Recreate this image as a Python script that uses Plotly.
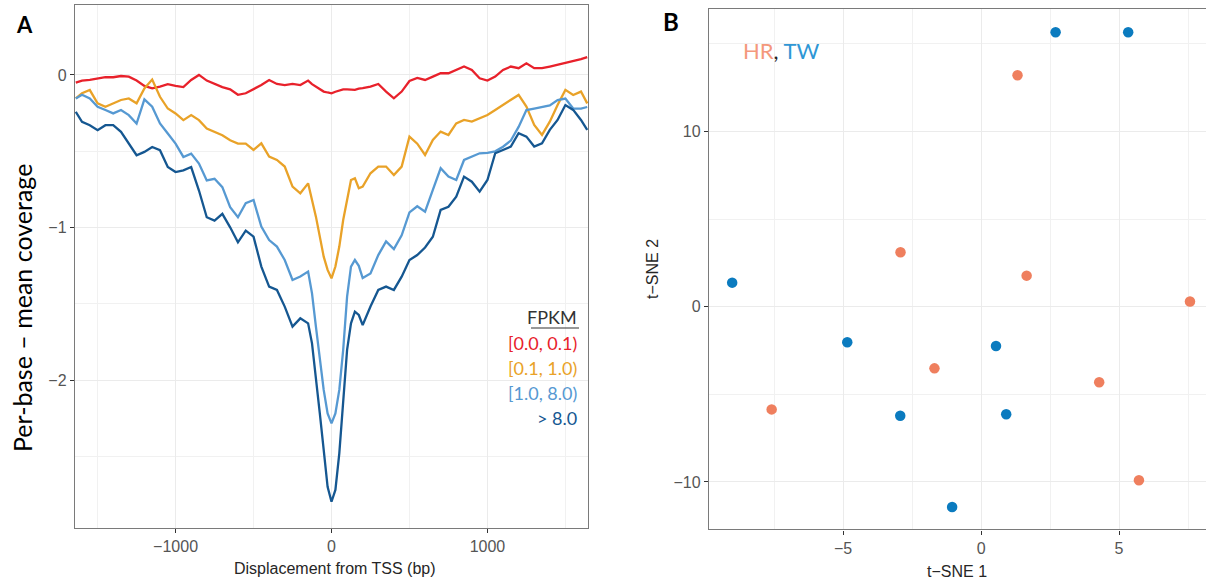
import plotly.graph_objects as go

W, H = 1206, 581

# ---------------- Panel A data ----------------
disp_bp = [-1640, -1600, -1550, -1500, -1450, -1400, -1350, -1300, -1250, -1200,
           -1150, -1100, -1050, -1000, -950, -900, -850, -800, -750, -700,
           -650, -600, -550, -500, -450, -400, -350, -300, -250, -200,
           -150, -125, -100, -75, -50, -25, 0, 25, 50, 75,
           100, 125, 150, 175, 200, 250, 300, 350, 400, 450,
           500, 550, 600, 650, 700, 750, 800, 850, 900, 950,
           1000, 1050, 1100, 1150, 1200, 1250, 1300, 1350, 1400, 1450,
           1500, 1550, 1600, 1640]

cov_00_01 = [-0.05, -0.037, -0.033, -0.022, -0.015, -0.015, -0.007, -0.011, -0.037, -0.072,
             -0.088, -0.077, -0.06, -0.072, -0.08, -0.033, 0.0, -0.037, -0.06, -0.08,
             -0.094, -0.13, -0.12, -0.094, -0.066, -0.033, -0.059, -0.066, -0.059, -0.066,
             -0.037, -0.06, -0.076, -0.09, -0.109, -0.115, -0.12, -0.11, -0.103, -0.095,
             -0.094, -0.095, -0.098, -0.09, -0.087, -0.076, -0.059, -0.109, -0.153, -0.109,
             -0.04, -0.02, -0.033, -0.011, 0.011, 0.011, 0.033, 0.055, 0.033, -0.022,
             -0.037, -0.011, 0.033, 0.055, 0.044, 0.076, 0.044, 0.044, 0.055, 0.066,
             0.076, 0.087, 0.103, 0.116]

cov_01_10 = [-0.154, -0.12, -0.099, -0.186, -0.208, -0.186, -0.164, -0.154, -0.186, -0.088,
             -0.03, -0.143, -0.22, -0.252, -0.296, -0.263, -0.296, -0.351, -0.373, -0.395,
             -0.428, -0.45, -0.45, -0.491, -0.448, -0.535, -0.557, -0.6, -0.731, -0.775,
             -0.71, -0.819, -0.928, -1.059, -1.19, -1.277, -1.332, -1.255, -1.124, -0.95,
             -0.819, -0.688, -0.677, -0.742, -0.731, -0.644, -0.6, -0.6, -0.655, -0.6,
             -0.404, -0.45, -0.524, -0.426, -0.371, -0.393, -0.317, -0.295, -0.306, -0.284,
             -0.262, -0.229, -0.197, -0.164, -0.131, -0.207, -0.328, -0.393, -0.306, -0.197,
             -0.098, -0.131, -0.109, -0.186]

cov_10_80 = [-0.154, -0.13, -0.154, -0.208, -0.23, -0.252, -0.23, -0.263, -0.318, -0.16,
             -0.208, -0.318, -0.384, -0.45, -0.537, -0.515, -0.58, -0.691, -0.68, -0.735,
             -0.866, -0.932, -0.84, -0.819, -0.993, -1.081, -1.124, -1.212, -1.343, -1.32,
             -1.288, -1.43, -1.648, -1.867, -2.063, -2.216, -2.282, -2.216, -2.063, -1.801,
             -1.452, -1.255, -1.212, -1.25, -1.33, -1.30, -1.18, -1.09, -1.14, -1.05,
             -0.90, -0.86, -0.895, -0.753, -0.611, -0.666, -0.688, -0.557, -0.535, -0.513,
             -0.51, -0.50, -0.47, -0.43, -0.34, -0.23, -0.22, -0.21, -0.20, -0.165,
             -0.155, -0.22, -0.22, -0.21]

cov_gt_80 = [-0.241, -0.307, -0.329, -0.362, -0.329, -0.329, -0.373, -0.45, -0.526, -0.504,
             -0.472, -0.493, -0.603, -0.636, -0.625, -0.603, -0.757, -0.932, -0.954, -0.91,
             -0.998, -1.096, -1.02, -1.059, -1.255, -1.386, -1.408, -1.517, -1.648, -1.594,
             -1.627, -1.758, -1.976, -2.216, -2.456, -2.697, -2.795, -2.718, -2.478, -2.151,
             -1.801, -1.627, -1.55, -1.572, -1.638, -1.517, -1.408, -1.386, -1.408, -1.321,
             -1.212, -1.179, -1.13, -1.06, -0.884, -0.863, -0.797, -0.666, -0.699, -0.764,
             -0.688, -0.513, -0.491, -0.469, -0.382, -0.404, -0.469, -0.448, -0.36, -0.295,
             -0.197, -0.229, -0.295, -0.36]

fpkm_labels = ["[0.0, 0.1)", "[0.1, 1.0)", "[1.0, 8.0)", "> 8.0"]
fpkm_colors = ["#e8212b", "#e9a228", "#5699d2", "#155791"]

# ---------------- Panel B data ----------------
tw_x = [2.70, 5.33, -9.02, -4.85, 0.54, -2.93, 0.91, -1.05]
tw_y = [15.65, 15.65, 1.37, -2.03, -2.24, -6.22, -6.14, -11.43]
hr_x = [1.32, -2.92, 1.65, 7.57, -1.69, 4.28, -7.59, 5.72]
hr_y = [13.2, 3.10, 1.77, 0.29, -3.52, -4.31, -5.86, -9.9]

fig = go.Figure()
series = [cov_00_01, cov_01_10, cov_10_80, cov_gt_80]
for lab, col, ys in zip(fpkm_labels, fpkm_colors, series):
    assert len(ys) == len(disp_bp)
    fig.add_trace(go.Scatter(x=disp_bp, y=ys, mode="lines", name=lab,
                             line=dict(color=col, width=2.3), xaxis="x", yaxis="y"))

fig.add_trace(go.Scatter(x=hr_x, y=hr_y, mode="markers", name="HR",
                         marker=dict(color="#ef7f5e", size=10.5), xaxis="x2", yaxis="y2"))
fig.add_trace(go.Scatter(x=tw_x, y=tw_y, mode="markers", name="TW",
                         marker=dict(color="#0b7bbf", size=10.5), xaxis="x2", yaxis="y2"))

tickfont = dict(family="Liberation Sans, Arial", size=16, color="#555555")
common = dict(showgrid=True, gridcolor="#ebebeb", gridwidth=1.1, zeroline=False,
              showline=True, linecolor="#7a7a7a", linewidth=1.4,
              ticks="outside", ticklen=4, tickwidth=1.3, tickcolor="#333333",
              tickfont=tickfont)

def px(x):
    return x / W

def py(y):
    return (H - y) / H

fig.update_layout(
    width=W, height=H, showlegend=False,
    paper_bgcolor="white", plot_bgcolor="white",
    margin=dict(l=0, r=0, t=0, b=0),
    xaxis=dict(domain=[px(75), px(588)], range=[-1645, 1645], tickvals=[-1000, 0, 1000],
               mirror=True, anchor="y",
               minor=dict(tickvals=[-1500, -500, 500, 1500], showgrid=True,
                          gridcolor="#f1f1f1", gridwidth=0.9, ticks=""), **common),
    yaxis=dict(domain=[py(528), py(5)], range=[-2.967, 0.458], tickvals=[0, -1, -2],
               mirror=True, anchor="x",
               minor=dict(tickvals=[-2.5, -1.5, -0.5], showgrid=True,
                          gridcolor="#f1f1f1", gridwidth=0.9, ticks=""), **common),
    xaxis2=dict(domain=[px(709), 1.0], range=[-9.86, 8.15], tickvals=[-5, 0, 5],
                mirror=True, anchor="y2",
                minor=dict(tickvals=[-7.5, -2.5, 2.5, 7.5], showgrid=True,
                           gridcolor="#f1f1f1", gridwidth=0.9, ticks=""), **common),
    yaxis2=dict(domain=[py(529.3), py(9)], range=[-12.7, 16.98], tickvals=[-10, 0, 10],
                mirror=False, anchor="x2",
                minor=dict(tickvals=[-5, 5, 15], showgrid=True,
                           gridcolor="#f1f1f1", gridwidth=0.9, ticks=""), **common),
)

ann = []
# axis titles
ann.append(dict(x=px(335), y=py(568), text="Displacement from TSS (bp)", showarrow=False,
                xref="paper", yref="paper", xanchor="center", yanchor="middle",
                font=dict(family="Liberation Sans, Arial", size=16, color="#262626")))
ann.append(dict(x=px(22), y=py(308), text="Per-base – mean coverage", showarrow=False,
                xref="paper", yref="paper", xanchor="center", yanchor="middle", textangle=-90,
                font=dict(family="Lato", size=25, color="#000000")))
ann.append(dict(x=px(957), y=py(571), text="t−SNE 1", showarrow=False,
                xref="paper", yref="paper", xanchor="center", yanchor="middle",
                font=dict(family="Liberation Sans, Arial", size=16, color="#262626")))
ann.append(dict(x=px(652), y=py(269), text="t−SNE 2", showarrow=False,
                xref="paper", yref="paper", xanchor="center", yanchor="middle", textangle=-90,
                font=dict(family="Liberation Sans, Arial", size=16, color="#262626")))
# panel letters
ann.append(dict(x=px(24), y=py(24), text="<b>A</b>", showarrow=False, xref="paper", yref="paper",
                xanchor="center", yanchor="middle", font=dict(family="Lato", size=22, color="#000")))
ann.append(dict(x=px(671), y=py(22), text="<b>B</b>", showarrow=False, xref="paper", yref="paper",
                xanchor="center", yanchor="middle", font=dict(family="Lato", size=24, color="#000")))
# legend text in panel A
ann.append(dict(x=px(579), y=py(317), text="FPKM", showarrow=False, xref="paper", yref="paper",
                xanchor="right", yanchor="middle", font=dict(family="Lato", size=18, color="#333333")))
legend_y = [343, 368, 393, 418]
for lab, col, yy in zip(fpkm_labels, fpkm_colors, legend_y):
    ann.append(dict(x=px(579), y=py(yy), text=lab.replace(">", "&gt;"), showarrow=False,
                    xref="paper", yref="paper", xanchor="right", yanchor="middle",
                    font=dict(family="Lato", size=18, color=col)))
# HR, TW label
ann.append(dict(x=px(741), y=py(50), showarrow=False, xref="paper", yref="paper",
                xanchor="left", yanchor="middle",
                text="<span style='color:#f4987c'>HR</span><span style='color:#222'>,</span> "
                     "<span style='color:#2f97d5'>TW</span>",
                font=dict(family="Lato", size=22)))
fig.update_layout(annotations=ann)

fig.add_shape(type="line", xref="paper", yref="paper", x0=px(531), x1=px(579),
              y0=py(328), y1=py(328), line=dict(color="#333333", width=1.2))

fig.write_html("out.html", config={"displayModeBar": False})

# remove the browser's default page margin so the figure sits at the page origin
with open("out.html", "r", encoding="utf-8") as f:
    html = f.read()
html = html.replace("<body>", "<body style=\"margin:0;padding:0;overflow:hidden\">", 1)
html = html.replace("<head>", "<head><style>html,body{margin:0;padding:0;}</style>", 1)
with open("out.html", "w", encoding="utf-8") as f:
    f.write(html)
